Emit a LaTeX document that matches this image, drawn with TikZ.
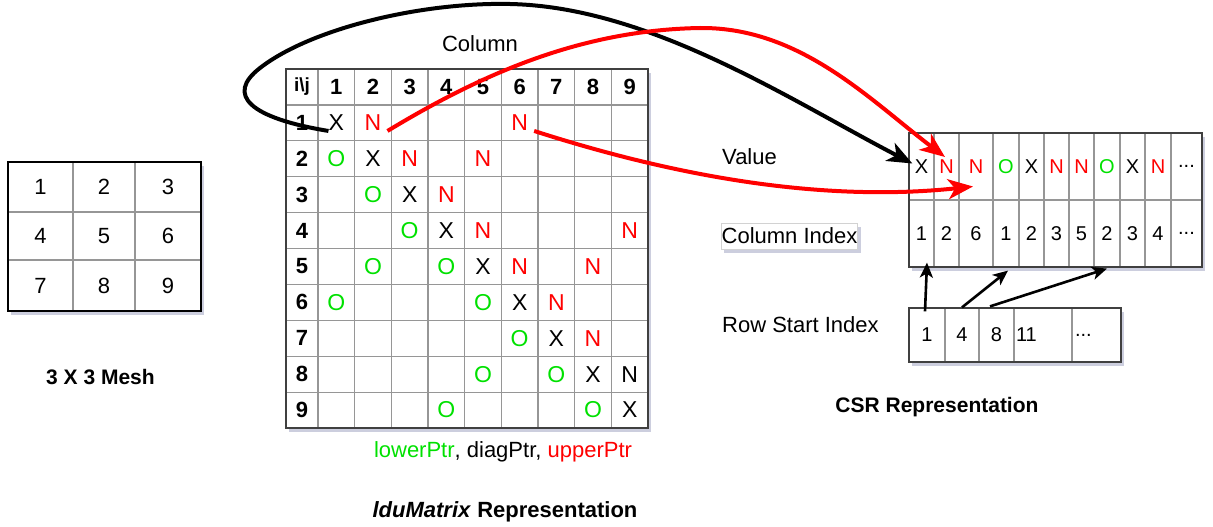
\documentclass[tikz,border=0pt]{standalone}
\usepackage{fontspec}
\setmainfont{Liberation Sans}
\usetikzlibrary{arrows.meta,shadows,calc}
\definecolor{gOk}{RGB}{0,225,0}
\definecolor{rN}{RGB}{255,0,0}
\definecolor{gridc}{RGB}{150,150,150}
\definecolor{shadowc}{RGB}{110,115,160}
\newcommand{\tdots}{...}
\begin{document}
\begin{tikzpicture}[x=1pt,y=-1pt,
  shad/.style={drop shadow={shadow xshift=3pt,shadow yshift=-4pt,opacity=0.35,fill=shadowc}},
  outerbox/.style={fill=white,draw=black!75,line width=1.5pt,shad},
  gline/.style={draw=gridc,line width=1.2pt},
  ent/.style={inner sep=0pt,font=\fontsize{23}{23}\selectfont},
  hdr/.style={inner sep=0pt,font=\fontsize{22}{22}\selectfont\bfseries},
  meshnum/.style={inner sep=0pt,font=\fontsize{22}{22}\selectfont},
  lbl/.style={inner sep=0pt,font=\fontsize{22}{22}\selectfont},
  ttl/.style={inner sep=0pt,font=\fontsize{21}{21}\selectfont\bfseries},
  csrcell/.style={draw=gridc,line width=1.2pt,inner sep=0pt,font=\fontsize{20}{20}\selectfont},
  bigblk/.style={draw=black,line width=4pt,-{Stealth[length=25pt,width=20pt,inset=7pt]}},
  bigred/.style={draw=rN,line width=4pt,-{Stealth[length=25pt,width=20pt,inset=7pt]}},
  smallarr/.style={draw=black,line width=2.6pt,-{Stealth[length=15pt,width=13pt,inset=4pt]}}
]
\useasboundingbox (0,0) rectangle (1213,527);

% ---------- 3x3 mesh ----------
\draw[fill=white,draw=black,line width=2.5pt,shad] (8,162) rectangle (201,311);
\draw[gline,line width=1.5pt] (73,162) -- (73,311) (135,162) -- (135,311)
                 (8,212) -- (201,212) (8,260) -- (201,260);
\draw[draw=black,line width=2.5pt] (8,162) rectangle (201,311);
\foreach \n/\x/\y in {1/40.5/187,2/104/187,3/168/187,4/40.5/236,5/104/236,6/168/236,7/40.5/285.5,8/104/285.5,9/168/285.5}
  \node[meshnum] (mesh\n) at (\x,\y) {\n};
\node[ttl] (meshtitle) at (100.5,377) {3 X 3 Mesh};

% ---------- lduMatrix ----------
\draw[outerbox] (286,69) rectangle (648,428);
\foreach \k in {0,1,2,3,4,5,6,7,8}
  \draw[gline] ({318+\k*36.667},69) -- ({318+\k*36.667},428);
\foreach \k in {1,2,3,4,5,6,7,8,9}
  \draw[gline] (286,{69+\k*35.9}) -- (648,{69+\k*35.9});
\draw[draw=black!75,line width=1.5pt] (286,69) rectangle (648,428);
\node[hdr,font=\fontsize{19}{19}\selectfont\bfseries] (h0) at (302,86.95) {i\textbackslash j};
\foreach \c in {1,2,3,4,5,6,7,8,9}
  \node[hdr] (hc\c) at ({318+(\c-0.5)*36.667},86.95) {\c};
\foreach \r in {1,2,3,4,5,6,7,8,9}
  \node[hdr] (hr\r) at (302,{69+(\r+0.5)*35.9}) {\r};
\foreach \r/\c/\t/\col in {1/1/X/black, 1/2/N/rN, 1/6/N/rN,
   2/1/O/gOk, 2/2/X/black, 2/3/N/rN, 2/5/N/rN,
   3/2/O/gOk, 3/3/X/black, 3/4/N/rN,
   4/3/O/gOk, 4/4/X/black, 4/5/N/rN, 4/9/N/rN,
   5/2/O/gOk, 5/4/O/gOk, 5/5/X/black, 5/6/N/rN, 5/8/N/rN,
   6/1/O/gOk, 6/5/O/gOk, 6/6/X/black, 6/7/N/rN,
   7/6/O/gOk, 7/7/X/black, 7/8/N/rN,
   8/5/O/gOk, 8/7/O/gOk, 8/8/X/black, 8/9/N/black,
   9/4/O/gOk, 9/8/O/gOk, 9/9/X/black}
  \node[ent,text=\col] (m\r\c) at ({318+(\c-0.5)*36.667},{69+(\r+0.5)*35.9}) {\t};
\node[lbl] (collbl) at (480,44) {Column};
\node[lbl] (ptrs) at (503,452) {\textcolor{gOk}{lowerPtr}, diagPtr, \textcolor{rN}{upperPtr}};
\node[ttl,font=\fontsize{22}{22}\selectfont\bfseries] (ldutitle) at (505,512) {\textit{lduMatrix} Representation};

% ---------- CSR ----------
\draw[outerbox] (909,133) rectangle (1202,267);
\foreach \a/\b/\v/\c/\k [count=\i] in {909/934/X/black/1, 934/959/N/rN/2, 959/993/N/rN/6,
   993/1019/O/gOk/1, 1019/1044/X/black/2, 1044/1069/N/rN/3, 1069/1094/N/rN/5,
   1094/1120/O/gOk/2, 1120/1145/X/black/3, 1145/1171/N/rN/4, 1171/1202/\tdots/black/\tdots}
{
  \node[csrcell,minimum width={(\b-\a)*1pt},minimum height=67pt,text=\c] (v\i) at ({(\a+\b)/2},166.5) {\v};
  \node[csrcell,minimum width={(\b-\a)*1pt},minimum height=67pt] (c\i) at ({(\a+\b)/2},233.5) {\k};
}
\draw[draw=black!75,line width=1.5pt] (909,133) rectangle (1202,267);

\draw[outerbox] (909,308) rectangle (1121,362);
\node[csrcell,minimum width=36pt,minimum height=54pt] (r1) at (927,335) {1};
\node[csrcell,minimum width=34pt,minimum height=54pt] (r2) at (962,335) {4};
\node[csrcell,minimum width=35pt,minimum height=54pt] (r3) at (996.5,335) {8};
\node[csrcell,minimum width=58pt,minimum height=54pt,text width=54pt,inner xsep=2pt,align=left] (r4) at (1043,335) {11};
\node[csrcell,minimum width=49pt,minimum height=54pt,text width=43pt,inner xsep=3pt,align=left] (r5) at (1096.5,335) {\tdots};
\draw[draw=black!75,line width=1.5pt] (909,308) rectangle (1121,362);

\node[lbl,anchor=west] (vallbl) at (722,157) {Value};
\node[lbl,draw=gray!35,line width=0.8pt,fill=white,shad,inner xsep=0.5pt,minimum height=26pt] (cilbl) at (789.5,236) {Column Index};
\node[lbl,anchor=west] (rslbl) at (722,325) {Row Start Index};
\node[ttl] (csrtitle) at (937,407) {CSR Representation};

% ---------- connectors ----------
\draw[bigblk] (m11.south west) .. controls (250,118) and (225,95) .. (260,68)
   .. controls (310,29) and (420,2) .. (510,4)
   .. controls (650,7) and (790,100) .. ($(v1.west)+(4,-3)$);
\draw[bigred] ([xshift=6pt]m12.south east) .. controls (480,75) and (580,30) .. (700,28)
   .. controls (800,27) and (870,100) .. ($(v2.center)+(-1.5,-9.5)$);
\draw[bigred] ([xshift=6pt]m16.south east) .. controls (640,165) and (800,205) .. ($(v3.center)+(-3,20)$);

\draw[smallarr] ($(r1.north)+(-2,4)$) -- ($(c1.south)+(5.5,-5)$);
\draw[smallarr] (r2.north) -- ($(c4.south)+(2,3)$);
\draw[smallarr] ($(r3.north)+(-6.5,-1)$) -- ($(c8.south)+(0,1)$);
\end{tikzpicture}
\end{document}
